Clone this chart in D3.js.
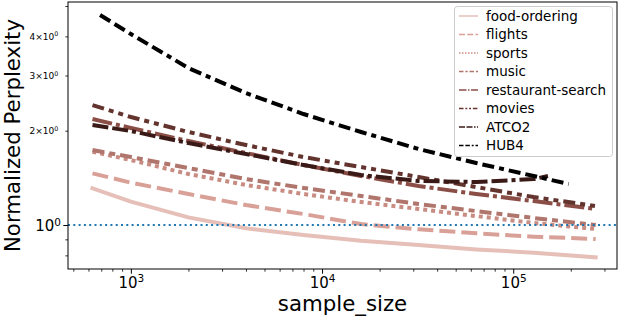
<!DOCTYPE html>
<html>
<head>
<meta charset="utf-8">
<script src="https://cdn.jsdelivr.net/npm/d3@7"></script>
<style>
  body { margin: 0; background: #fff; }
  text { font-family: "DejaVu Sans", sans-serif; fill: #000; }
</style>
</head>
<body>
<svg id="chart" width="620" height="316"></svg>
<script>
// ---- data ----
var datasets = ["food-ordering", "flights", "sports", "music",
                "restaurant-search", "movies", "ATCO2", "HUB4"];

var sampleSize      = [630, 1000, 2000, 4000, 8000, 16000, 32000, 64000, 128000, 270000];
var sampleSizeATCO2 = [630, 1000, 2000, 4000, 8000, 16000, 32000, 64000, 128000, 152000];
var sampleSizeHUB4  = [690, 1000, 2000, 4000, 8000, 16000, 32000, 64000, 128000, 195000];

var foodOrdering     = [1.310, 1.187, 1.058, 0.976, 0.929, 0.891, 0.863, 0.836, 0.816, 0.789];
var flights          = [1.462, 1.365, 1.256, 1.158, 1.084, 1.007, 0.969, 0.941, 0.918, 0.902];
var sports           = [1.714, 1.612, 1.455, 1.342, 1.256, 1.184, 1.125, 1.068, 1.015, 0.971];
var music            = [1.735, 1.648, 1.520, 1.402, 1.313, 1.238, 1.167, 1.108, 1.053, 1.000];
var restaurantSearch = [2.179, 2.040, 1.854, 1.697, 1.554, 1.434, 1.332, 1.256, 1.193, 1.125];
var movies           = [2.415, 2.212, 1.981, 1.800, 1.648, 1.531, 1.423, 1.322, 1.228, 1.150];
var atco2            = [2.085, 1.995, 1.827, 1.685, 1.554, 1.444, 1.382, 1.372, 1.402, 1.434];
var hub4             = [4.68, 4.07, 3.17, 2.638, 2.261, 1.981, 1.748, 1.577, 1.434, 1.352];

var xMajor = [1e3, 1e4, 1e5];
var yMajor = [1];
var yMinorLabelled = [2, 3, 4];

// ---- styles ----
var colors = ["#e5bfb8", "#d9a097", "#c98c83", "#b0756c",
              "#8a4e47", "#63332e", "#3a1a17", "#000000"];
var dashes = [null, [4, 1.5], [1, 1], [3, 1.25, 1.5, 1.25], [5, 1, 1, 1],
              [3, 1.25, 1.25, 1.25, 1.25, 1.25], [4, 1, 4, 1, 1, 1],
              [3, 1.25, 3, 1.25, 1.25, 1.25]];

var series = [
  { name: datasets[0], xs: sampleSize, ys: foodOrdering },
  { name: datasets[1], xs: sampleSize, ys: flights },
  { name: datasets[2], xs: sampleSize, ys: sports },
  { name: datasets[3], xs: sampleSize, ys: music },
  { name: datasets[4], xs: sampleSize, ys: restaurantSearch },
  { name: datasets[5], xs: sampleSize, ys: movies },
  { name: datasets[6], xs: sampleSizeATCO2, ys: atco2 },
  { name: datasets[7], xs: sampleSizeHUB4, ys: hub4 }
];

var svg = d3.select("#chart");
var pLeft = 68, pRight = 617, pTop = 2, pBottom = 269;
var lw = 4;

var x = d3.scaleLog().domain([469, 349000]).range([pLeft, pRight]);
var y = d3.scaleLog().domain([0.7238, 5.150]).range([pBottom, pTop]);

svg.append("clipPath").attr("id", "plotclip")
  .append("rect").attr("x", pLeft).attr("y", pTop)
  .attr("width", pRight - pLeft).attr("height", pBottom - pTop);

var line = d3.line()
  .x(function(d) { return x(d[0]); })
  .y(function(d) { return y(d[1]); });

var plot = svg.append("g").attr("clip-path", "url(#plotclip)");

series.forEach(function(s, i) {
  var pts = s.xs.map(function(v, j) { return [v, s.ys[j]]; });
  plot.append("path")
    .attr("d", line(pts))
    .attr("fill", "none")
    .attr("stroke", colors[i])
    .attr("stroke-width", lw)
    .attr("stroke-linejoin", "round")
    .attr("stroke-linecap", dashes[i] ? "butt" : "square")
    .attr("stroke-dasharray", dashes[i] ? dashes[i].map(function(v) { return v * lw; }).join(",") : null);
});

// reference line at 1
plot.append("line")
  .attr("x1", pLeft).attr("x2", pRight)
  .attr("y1", y(1)).attr("y2", y(1))
  .attr("stroke", "#1f77b4").attr("stroke-width", 2)
  .attr("stroke-dasharray", "2,3.3");

// ---- axes ----
function sup(sel, base, exp, size) {
  sel.text(null);
  sel.append("tspan").text(base);
  sel.append("tspan").attr("dy", -0.37 * size).attr("font-size", 0.7 * size).text(exp);
}

var xTicks = x.ticks();
var xMinor = xTicks.filter(function(v) { return xMajor.indexOf(v) < 0; });

svg.append("g").attr("transform", "translate(0," + pBottom + ")")
  .call(d3.axisBottom(x).tickValues(xMinor).tickSize(2.7).tickFormat(""))
  .call(function(g) { g.select(".domain").remove(); g.selectAll("line").attr("stroke-width", 0.8); });

var gx = svg.append("g").attr("transform", "translate(0," + pBottom + ")")
  .call(d3.axisBottom(x).tickValues(xMajor).tickSize(4.7).tickFormat(d3.format(".0e")))
  .call(function(g) { g.select(".domain").remove(); g.selectAll("line").attr("stroke-width", 1); });
gx.selectAll(".tick text")
  .attr("y", 19).attr("dy", 0)
  .attr("font-size", 15).attr("font-family", "DejaVu Sans")
  .each(function(d) { sup(d3.select(this), "10", Math.round(Math.log10(d)), 15); });

var yTicks = y.ticks();
var yMinor = yTicks.filter(function(v) { return yMajor.indexOf(v) < 0; });

var gyMinor = svg.append("g").attr("transform", "translate(" + pLeft + ",0)")
  .call(d3.axisLeft(y).tickValues(yMinor).tickSize(2.7).tickFormat(function(d) { return d; }))
  .call(function(g) { g.select(".domain").remove(); g.selectAll("line").attr("stroke-width", 0.8); });
gyMinor.selectAll(".tick text")
  .attr("x", -9.7).attr("dy", 2.8)
  .attr("font-size", 9).attr("font-family", "DejaVu Sans")
  .each(function(d) {
    var t = d3.select(this);
    if (yMinorLabelled.indexOf(d) < 0) { t.remove(); return; }
    sup(t, d + "\u00d710", "0", 9);
  });

var gy = svg.append("g").attr("transform", "translate(" + pLeft + ",0)")
  .call(d3.axisLeft(y).tickValues(yMajor).tickSize(4.7).tickFormat(function(d) { return d; }))
  .call(function(g) { g.select(".domain").remove(); g.selectAll("line").attr("stroke-width", 1); });
gy.selectAll(".tick text")
  .attr("x", -7).attr("dy", 5.7)
  .attr("font-size", 15).attr("font-family", "DejaVu Sans")
  .each(function(d) { sup(d3.select(this), "10", "0", 15); });

// frame
svg.append("rect")
  .attr("x", pLeft).attr("y", pTop)
  .attr("width", pRight - pLeft).attr("height", pBottom - pTop)
  .attr("fill", "none").attr("stroke", "#000").attr("stroke-width", 1);

// axis titles
svg.append("text")
  .attr("x", (pLeft + pRight) / 2).attr("y", 310.5)
  .attr("text-anchor", "middle").attr("font-size", 21.3)
  .text("sample_size");
svg.append("text")
  .attr("transform", "translate(20," + (pTop + pBottom) / 2 + ") rotate(-90)")
  .attr("text-anchor", "middle").attr("font-size", 21.3)
  .text("Normalized Perplexity");

// ---- legend ----
var legend = svg.append("g");
legend.append("rect")
  .attr("x", 454.5).attr("y", 6.5).attr("width", 158).attr("height", 150)
  .attr("rx", 3)
  .attr("fill", "#fff").attr("fill-opacity", 0.8)
  .attr("stroke", "#cccccc").attr("stroke-width", 1);

var llw = 1.5;
datasets.forEach(function(name, i) {
  var cy = 16 + i * 18.5;
  legend.append("line")
    .attr("x1", 459).attr("x2", 478).attr("y1", cy).attr("y2", cy)
    .attr("stroke", colors[i]).attr("stroke-width", llw)
    .attr("stroke-dasharray", dashes[i] ? dashes[i].map(function(v) { return v * llw; }).join(",") : null);
  legend.append("text")
    .attr("x", 486).attr("y", cy).attr("dy", "0.36em")
    .attr("font-size", 13.5)
    .text(name);
});
</script>
</body>
</html>
